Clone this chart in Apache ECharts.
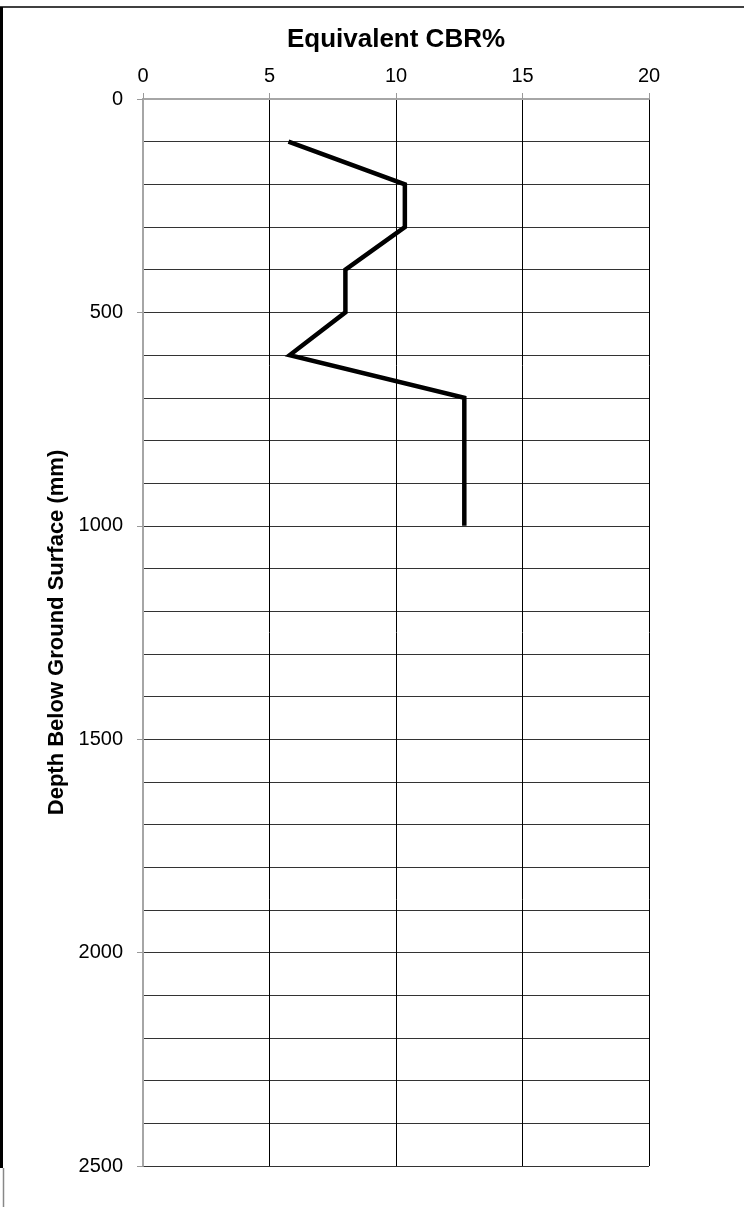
<!DOCTYPE html>
<html>
<head>
<meta charset="utf-8">
<script src="https://cdn.jsdelivr.net/npm/echarts@6/dist/echarts.min.js"></script>
<style>
  html, body { margin: 0; padding: 0; background: #fff; }
  #chart { width: 744px; height: 1207px; }
</style>
</head>
<body>
<div id="chart"></div>
<script>
// DCP test: equivalent CBR against depth below ground surface
const depthMm = [100, 200, 300, 400, 500, 600, 700, 1000];
const cbrPercent = [5.75, 10.35, 10.35, 8.0, 8.0, 5.8, 12.7, 12.7];
const cbrTicks = [0, 5, 10, 15, 20];
const depthTicks = [0, 500, 1000, 1500, 2000, 2500];

const points = depthMm.map((d, i) => [cbrPercent[i], d]);

const chart = echarts.init(document.getElementById('chart'), null, { renderer: 'canvas' });
const font = 'Liberation Sans, Arial, sans-serif';

chart.setOption({
  backgroundColor: '#fff',
  animation: false,
  grid: { left: 143, right: 95, top: 99, bottom: 41, containLabel: false },
  xAxis: [
    {
      type: 'value', position: 'top',
      min: cbrTicks[0], max: cbrTicks[cbrTicks.length - 1], interval: 5,
      name: 'Equivalent CBR%', nameLocation: 'middle', nameGap: 46,
      nameTextStyle: { fontFamily: font, fontWeight: 'bold', fontSize: 26, color: '#000' },
      axisLine: { show: true, lineStyle: { color: '#000', width: 1 } },
      axisTick: { show: true, length: 6, lineStyle: { color: '#999' } },
      axisLabel: { fontFamily: font, fontSize: 20, color: '#000', margin: 13 },
      splitLine: { show: true, lineStyle: { color: '#000', width: 1 } }
    },
    {
      type: 'value', position: 'bottom', min: 0, max: 20,
      axisLine: { show: true, lineStyle: { color: '#a6a6a6', width: 2 } },
      axisTick: { show: false }, axisLabel: { show: false }, splitLine: { show: false }
    }
  ],
  yAxis: [
    {
      type: 'value', inverse: true,
      min: depthTicks[0], max: depthTicks[depthTicks.length - 1], interval: 500,
      name: 'Depth Below Ground Surface (mm)', nameLocation: 'middle', nameGap: 69,
      nameTextStyle: { fontFamily: font, fontWeight: 'bold', fontSize: 22, color: '#000', padding: [0, 0, 0, 0] },
      axisLine: { show: true, lineStyle: { color: '#000', width: 1 } },
      axisTick: { show: true, length: 6, lineStyle: { color: '#999' } },
      axisLabel: {
        fontFamily: font, fontSize: 20, color: '#000', margin: 20,
        formatter: (v) => String(v)
      },
      splitLine: { show: true, lineStyle: { color: '#333', width: 1 } },
      minorTick: { show: false, splitNumber: 5 },
      minorSplitLine: { show: true, lineStyle: { color: '#333', width: 1 } }
    },
    {
      type: 'value', position: 'right', inverse: true, min: 0, max: 2500,
      axisLine: { show: true, lineStyle: { color: '#a6a6a6', width: 2 } },
      axisTick: { show: false }, axisLabel: { show: false }, splitLine: { show: false }
    }
  ],
  series: [
    {
      type: 'line', xAxisIndex: 0, yAxisIndex: 0,
      data: points,
      showSymbol: false, symbol: 'none',
      lineStyle: { color: '#000', width: 4.5, join: 'miter' },
      z: 10
    }
  ],
  graphic: [
    { type: 'line', shape: { x1: 0, y1: 7, x2: 744, y2: 7 }, style: { stroke: '#000', lineWidth: 1.5 } },
    { type: 'rect', shape: { x: 0, y: 7, width: 3, height: 1161 }, style: { fill: '#000' } },
    { type: 'line', shape: { x1: 3.5, y1: 1168, x2: 3.5, y2: 1207 }, style: { stroke: '#888', lineWidth: 1.5 } }
  ]
});
</script>
</body>
</html>
